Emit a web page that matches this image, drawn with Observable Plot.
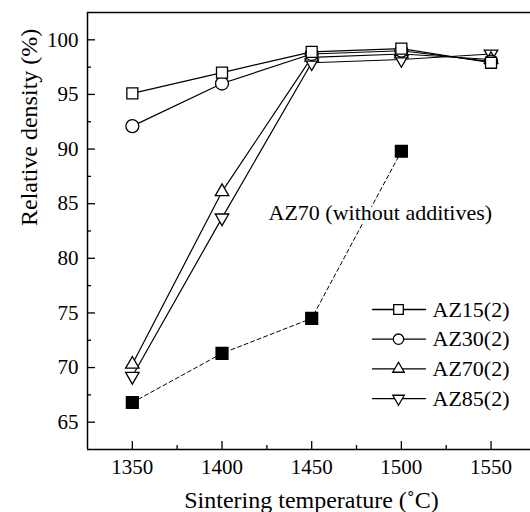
<!DOCTYPE html>
<html><head><meta charset="utf-8">
<script src="https://cdn.jsdelivr.net/npm/d3@7"></script>
<script src="https://cdn.jsdelivr.net/npm/@observablehq/plot@0.6"></script>
<style>
body{margin:0;background:#fff}
svg, svg text { font-family: "Liberation Serif", "Times New Roman", serif !important; }
</style>
</head><body><div id="chart"></div>
<script>
// ---- data ----
const temps = [1350, 1400, 1450, 1500, 1550];
const az15 = [95.1, 97.0, 98.9, 99.2, 97.9];
const az30 = [92.1, 96.0, 98.7, 99.0, 98.0];
const az70 = [70.3, 86.1, 98.4, 98.7, 98.2];
const az85 = [69.2, 83.7, 97.9, 98.2, 98.7];
const plainTemps = [1350, 1400, 1450, 1500];
const azPlain = [66.8, 71.3, 74.5, 89.8];
const seriesNames = ["AZ15(2)", "AZ30(2)", "AZ70(2)", "AZ85(2)"];
const annotation = "AZ70 (without additives)";
const xTicks = [1350, 1400, 1450, 1500, 1550];
const xMinor = [1375, 1425, 1475, 1525];
const yTicks = [65, 70, 75, 80, 85, 90, 95, 100];
const yMinor = [67.5, 72.5, 77.5, 82.5, 87.5, 92.5, 97.5];
const xLabel = "Sintering temperature (˚C)";
const yLabel = "Relative density (%)";

// ---- tables ----
const seriesVals = [az15, az30, az70, az85];
const rows = [];
seriesNames.forEach((n, s) => temps.forEach((t, i) => rows.push({name: n, t, v: seriesVals[s][i]})));
const plainRows = plainTemps.map((t, i) => ({t, v: azPlain[i]}));

// ---- styles ----
const marker = {
  "AZ15(2)": {symbol: "square", r: 6.2, rotate: 0, lr: 5.4},
  "AZ30(2)": {symbol: "circle", r: 6.5, rotate: 0, lr: 5.2},
  "AZ70(2)": {symbol: "triangle", r: 5, rotate: 0, lr: 4.3},
  "AZ85(2)": {symbol: "triangle", r: 5, rotate: 180, lr: 4.3}
};
const lineShape = {draw(ctx, l) { ctx.moveTo(0, 0); ctx.lineTo(0, -l); }};
const font = "Liberation Serif";

const seriesMarks = [...seriesNames].reverse().map(n =>
  Plot.dot(rows.filter(d => d.name === n), {
    x: "t", y: "v", symbol: marker[n].symbol, r: marker[n].r, rotate: marker[n].rotate,
    fill: "white", stroke: "black", strokeWidth: 1.3
  })
);

const legendMarks = seriesNames.flatMap((n, i) => {
  const dy = 297 + i * 29.7;
  return [
    Plot.vector([n], {frameAnchor: "top-left", dx: 285, dy, length: 53, rotate: 90, anchor: "start",
      shape: lineShape, stroke: "black", strokeWidth: 1.3}),
    Plot.dot([n], {frameAnchor: "top-left", dx: 311, dy, symbol: marker[n].symbol, r: marker[n].lr,
      rotate: marker[n].rotate, fill: "white", stroke: "black", strokeWidth: 1.3}),
    Plot.text([n], {frameAnchor: "top-left", dx: 345, dy, text: d => d, textAnchor: "start",
      lineAnchor: "middle", fontSize: 22, fontFamily: font, fill: "black"})
  ];
});

const chart = Plot.plot({
  width: 530,
  height: 512,
  marginLeft: 87,
  marginRight: 0,
  marginTop: 12,
  marginBottom: 63,
  style: {fontFamily: font, fontSize: "21px", color: "black", background: "white"},
  x: {domain: [1325, 1572]},
  y: {domain: [62.5, 102.5]},
  marks: [
    Plot.ruleY([62.5, 102.5], {stroke: "black", strokeWidth: 1.5}),
    Plot.ruleX([1325], {stroke: "black", strokeWidth: 1.5}),
    Plot.axisX({ticks: xTicks, tickSize: -8, tickPadding: 18, tickFormat: d3.format("d"),
      fontSize: 21, fontFamily: font, label: null, strokeWidth: 1.3}),
    Plot.axisX({ticks: xMinor, tickSize: -4, text: null, label: null, strokeWidth: 1.3}),
    Plot.axisY({ticks: yTicks, tickSize: -8, tickPadding: 17, tickFormat: d3.format("d"),
      fontSize: 21, fontFamily: font, label: null, strokeWidth: 1.3}),
    Plot.axisY({ticks: yMinor, tickSize: -4, text: null, label: null, strokeWidth: 1.3}),
    Plot.line(plainRows, {x: "t", y: "v", stroke: "black", strokeWidth: 1, strokeDasharray: "4,3"}),
    Plot.line(rows, {x: "t", y: "v", z: "name", stroke: "black", strokeWidth: 1.2}),
    Plot.text([annotation], {frameAnchor: "top-left", dx: 181, dy: 200, text: d => d,
      textAnchor: "start", lineAnchor: "middle", fontSize: 22, fontFamily: font, fill: "black",
      stroke: "white", strokeWidth: 8}),
    Plot.dot(plainRows, {x: "t", y: "v", symbol: "square", r: 6.6, fill: "black", stroke: "black"}),
    ...seriesMarks,
    ...legendMarks,
    Plot.text([xLabel], {frameAnchor: "bottom", dx: 2.5, dy: 51, text: d => d,
      lineAnchor: "middle", fontSize: 24, fontFamily: font, fill: "black"}),
    Plot.text([yLabel], {frameAnchor: "left", dx: -58, dy: -5, rotate: -90, text: d => d,
      lineAnchor: "middle", fontSize: 24, fontFamily: font, fill: "black"})
  ]
});
document.getElementById("chart").appendChild(chart);
</script>
</body></html>
